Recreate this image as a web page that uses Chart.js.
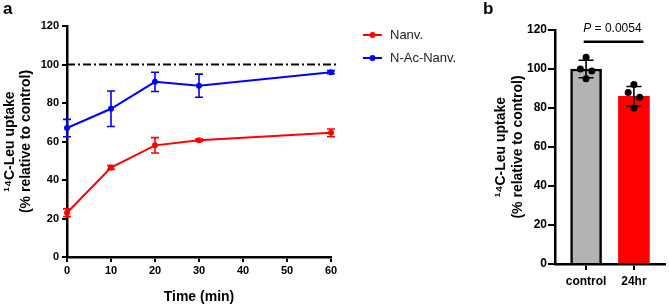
<!DOCTYPE html>
<html lang="en">
<head>
<meta charset="UTF-8" />
<title>14C-Leu uptake</title>
<script src="https://cdn.jsdelivr.net/npm/chart.js"></script>
<style>
  body { margin: 0; background: #fff; width: 669px; height: 306px; overflow: hidden; position: relative; }
  .painel { position: absolute; top: 0; }
  .letra { position: absolute; font-family: 'Liberation Sans', Arial, sans-serif; font-weight: bold; font-size: 17px; color: #000; }
</style>
</head>
<body>
  <canvas id="graficoTempo" class="painel" width="480" height="306" style="left:0"></canvas>
  <canvas id="graficoBarra" class="painel" width="189" height="306" style="left:480px"></canvas>
  <div class="letra" style="left:3px; top:-1px;">a</div>
  <div class="letra" style="left:483px; top:-1px;">b</div>

<script>
// ---- dados painel a ----
const tempos = [0, 10, 20, 30, 60];
const nanvMedia = [23, 46.5, 58, 60.7, 64.5];
const nanvDesvio = [2, 1, 4, 0.6, 2];
const acNanvMedia = [67, 77, 91, 89, 96];
const acNanvDesvio = [4.5, 9.2, 5, 6, 0.8];
const linhaControle = 100;

// ---- dados painel b ----
const grupos = ['control', '24hr'];
const barraMedia = [100, 86];
const barraDesvio = [4.5, 5];
const pontosControle = [106, 100, 99, 95];
const pontos24hr = [92, 88, 85.5, 80];
const pTexto = '0.0054';

const fonte = "'Liberation Sans', Arial, sans-serif";
const vermelho = '#ff0000';
const azul = '#0000ff';
const tituloY = ['\u00b9\u2074C-Leu uptake', '(% relative to control)'];

// barras de erro do grafico de linhas
const erroLinhas = {
  id: 'erroLinhas',
  afterDatasetsDraw(chart) {
    const ctx = chart.ctx;
    const yScale = chart.scales.y;
    const desvios = [nanvDesvio, acNanvDesvio];
    chart.data.datasets.forEach((ds, d) => {
      const meta = chart.getDatasetMeta(d);
      ctx.save();
      ctx.strokeStyle = ds.borderColor;
      ctx.lineWidth = 1.6;
      meta.data.forEach((pt, i) => {
        const m = ds.data[i].y;
        const y1 = yScale.getPixelForValue(m + desvios[d][i]);
        const y2 = yScale.getPixelForValue(m - desvios[d][i]);
        ctx.beginPath();
        ctx.moveTo(pt.x, y1); ctx.lineTo(pt.x, y2);
        ctx.moveTo(pt.x - 4, y1); ctx.lineTo(pt.x + 4, y1);
        ctx.moveTo(pt.x - 4, y2); ctx.lineTo(pt.x + 4, y2);
        ctx.stroke();
      });
      ctx.restore();
    });
  }
};

// linha tracejada em 100%
const linhaRef = {
  id: 'linhaRef',
  beforeDatasetsDraw(chart) {
    const ctx = chart.ctx;
    const area = chart.chartArea;
    const y = chart.scales.y.getPixelForValue(linhaControle);
    ctx.save();
    ctx.strokeStyle = '#000';
    ctx.lineWidth = 2;
    ctx.setLineDash([8, 3, 2, 3]);
    ctx.beginPath();
    ctx.moveTo(area.left, y);
    ctx.lineTo(area.right + 8, y);
    ctx.stroke();
    ctx.restore();
  }
};

// legenda desenhada a mao
const legendaA = {
  id: 'legendaA',
  afterDraw(chart) {
    const ctx = chart.ctx;
    const linhas = [35, 58];
    chart.data.datasets.forEach((ds, i) => {
      const y = linhas[i];
      ctx.save();
      ctx.strokeStyle = ds.borderColor;
      ctx.fillStyle = ds.borderColor;
      ctx.lineWidth = 2;
      ctx.beginPath();
      ctx.moveTo(363, y); ctx.lineTo(382, y);
      ctx.stroke();
      ctx.beginPath();
      ctx.arc(372.5, y, 3, 0, Math.PI * 2);
      ctx.fill();
      ctx.fillStyle = '#222';
      ctx.font = '13px ' + fonte;
      ctx.textBaseline = 'middle';
      ctx.fillText(ds.label, 390, y);
      ctx.restore();
    });
  }
};

const eixoFonte = { family: fonte, size: 11, weight: 'bold' };
const tituloFonte = { family: fonte, size: 14, weight: 'bold', lineHeight: 1.15 };

new Chart(document.getElementById('graficoTempo'), {
  type: 'line',
  data: {
    datasets: [
      {
        label: 'Nanv.',
        data: tempos.map((t, i) => ({ x: t, y: nanvMedia[i] })),
        borderColor: vermelho,
        backgroundColor: vermelho,
        borderWidth: 2,
        pointRadius: 3,
        pointBorderWidth: 0,
        clip: false
      },
      {
        label: 'N-Ac-Nanv.',
        data: tempos.map((t, i) => ({ x: t, y: acNanvMedia[i] })),
        borderColor: azul,
        backgroundColor: azul,
        borderWidth: 2,
        pointRadius: 3,
        pointBorderWidth: 0,
        clip: false
      }
    ]
  },
  options: {
    responsive: false,
    animation: false,
    layout: { padding: { top: 26, right: 149, left: 0, bottom: 0 } },
    plugins: { legend: { display: false }, tooltip: { enabled: false } },
    scales: {
      x: {
        type: 'linear',
        min: 0,
        max: 60,
        ticks: { stepSize: 10, color: '#000', font: eixoFonte, padding: 2 },
        grid: { drawOnChartArea: false, tickLength: 5, lineWidth: 2, color: '#000' },
        border: { color: '#000', width: 2.5 },
        title: { display: true, text: 'Time (min)', color: '#000', font: tituloFonte, padding: { top: 0, bottom: 1 } },
        afterFit(s) { s.height = 49; }
      },
      y: {
        min: 0,
        max: 120,
        ticks: { stepSize: 20, color: '#000', font: eixoFonte, padding: 3 },
        grid: { drawOnChartArea: false, tickLength: 5, lineWidth: 2, color: '#000' },
        border: { color: '#000', width: 2.5 },
        title: { display: true, text: tituloY, color: '#000', font: tituloFonte, padding: { top: 2, bottom: 0 } },
        afterFit(s) { s.width = 67; }
      }
    }
  },
  plugins: [linhaRef, erroLinhas, legendaA]
});

// ---- painel b ----
const deslocPontos = [0, -0.12, 0.12, 0];

const erroBarras = {
  id: 'erroBarras',
  afterDatasetDraw(chart, args) {
    if (args.meta.type !== 'bar') return;
    const ctx = chart.ctx;
    const xs = chart.scales.x, ys = chart.scales.y;
    ctx.save();
    ctx.strokeStyle = '#000';
    ctx.lineWidth = 1.6;
    barraMedia.forEach((m, i) => {
      const x = xs.getPixelForValue(i);
      const y1 = ys.getPixelForValue(m + barraDesvio[i]);
      const y2 = ys.getPixelForValue(m - barraDesvio[i]);
      ctx.beginPath();
      ctx.moveTo(x, y1); ctx.lineTo(x, y2);
      ctx.moveTo(x - 7.5, y1); ctx.lineTo(x + 7.5, y1);
      ctx.moveTo(x - 7.5, y2); ctx.lineTo(x + 7.5, y2);
      ctx.stroke();
    });
    ctx.restore();
  }
};

const anotacaoP = {
  id: 'anotacaoP',
  afterDraw(chart) {
    const ctx = chart.ctx;
    const xs = chart.scales.x, ys = chart.scales.y;
    const yLinha = ys.getPixelForValue(114);
    ctx.save();
    ctx.strokeStyle = '#000';
    ctx.lineWidth = 2.5;
    ctx.beginPath();
    ctx.moveTo(xs.getPixelForValue(-0.05), yLinha);
    ctx.lineTo(xs.getPixelForValue(1.2), yLinha);
    ctx.stroke();
    const yTexto = ys.getPixelForValue(120.5);
    const cx = xs.getPixelForValue(0.55);
    ctx.fillStyle = '#000';
    ctx.textBaseline = 'middle';
    ctx.font = 'italic 12px ' + fonte;
    const w1 = ctx.measureText('P').width;
    ctx.font = '12px ' + fonte;
    const resto = ' = ' + pTexto;
    const w2 = ctx.measureText(resto).width;
    const x0 = cx - (w1 + w2) / 2;
    ctx.font = 'italic 12px ' + fonte;
    ctx.fillText('P', x0, yTexto);
    ctx.font = '12px ' + fonte;
    ctx.fillText(resto, x0 + w1, yTexto);
    ctx.restore();
  }
};

const eixoFonteB = { family: fonte, size: 12, weight: 'bold' };

new Chart(document.getElementById('graficoBarra'), {
  type: 'bar',
  data: {
    datasets: [
      {
        type: 'bar',
        data: barraMedia.map((v, i) => ({ x: i, y: v })),
        backgroundColor: ['#b3b3b3', vermelho],
        borderColor: ['#000', vermelho],
        borderWidth: [2.5, 0],
        barThickness: 31,
        order: 2
      },
      {
        type: 'scatter',
        data: pontosControle.map((v, k) => ({ x: 0 + deslocPontos[k], y: v })),
        backgroundColor: '#000',
        pointRadius: 3.5,
        pointBorderWidth: 0,
        order: 1
      },
      {
        type: 'scatter',
        data: pontos24hr.map((v, k) => ({ x: 1 + deslocPontos[k], y: v })),
        backgroundColor: '#000',
        pointRadius: 3.5,
        pointBorderWidth: 0,
        order: 1
      }
    ]
  },
  options: {
    responsive: false,
    animation: false,
    layout: { padding: { top: 30, right: 1, left: 0, bottom: 0 } },
    plugins: { legend: { display: false }, tooltip: { enabled: false } },
    scales: {
      x: {
        type: 'linear',
        min: -0.65,
        max: 1.65,
        offset: false,
        afterBuildTicks(s) { s.ticks = grupos.map((g, i) => ({ value: i })); },
        ticks: { callback: (v) => grupos[v], color: '#000', font: eixoFonteB, padding: 4, autoSkip: false, maxRotation: 0 },
        grid: { offset: false, drawOnChartArea: false, tickLength: 6, lineWidth: 2, color: '#000' },
        border: { color: '#000', width: 2.5 },
        afterFit(s) { s.height = 42; }
      },
      y: {
        min: 0,
        max: 120,
        ticks: { stepSize: 20, color: '#000', font: eixoFonteB, padding: 1 },
        grid: { drawOnChartArea: false, tickLength: 7, lineWidth: 2, color: '#000' },
        border: { color: '#000', width: 2.5 },
        title: { display: true, text: tituloY, color: '#000', font: tituloFonte, padding: { top: 13.5, bottom: 0 } },
        afterFit(s) { s.width = 75; }
      }
    }
  },
  plugins: [erroBarras, anotacaoP]
});
</script>
</body>
</html>
